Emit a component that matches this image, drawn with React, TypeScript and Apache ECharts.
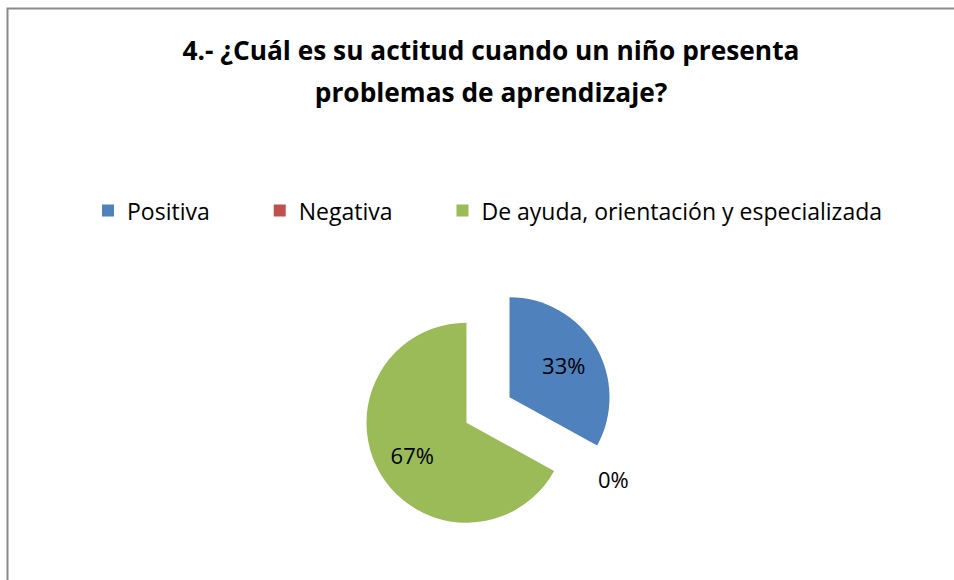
import React, { useEffect, useRef } from "react";
import * as echarts from "echarts";

const titleLines = ["4.- ¿Cuál es su actitud cuando un niño presenta", "problemas de aprendizaje?"];
const categories = ["Positiva", "Negativa", "De ayuda, orientación y especializada"];
const values = [33, 0, 67];
const colors = ["#4F81BD", "#C0504D", "#9BBB59"];

const FONT = "'Open Sans', 'Noto Sans', sans-serif";

export default function App() {
  const ref = useRef<HTMLDivElement>(null);
  useEffect(() => {
    if (!ref.current) return;
    const chart = echarts.init(ref.current, undefined, { renderer: "svg" });
    const center = [488, 410];
    const base = {
      type: "pie",
      center,
      startAngle: 90,
      clockwise: true,
      selectedMode: "multiple",
      selectedOffset: 25,
      avoidLabelOverlap: false,
      labelLine: { show: false },
      emphasis: { disabled: true },
      select: { disabled: false },
    };
    const labelStyle = { fontFamily: FONT, fontSize: 22, color: "#000" };
    chart.setOption({
      animation: false,
      color: colors,
      title: {
        text: titleLines.join("\n"),
        left: 486,
        top: 24,
        textAlign: "center",
        textStyle: { fontFamily: FONT, fontWeight: "bold", fontSize: 26.3, lineHeight: 42, color: "#000" },
      },
      legend: {
        left: 97,
        top: 194,
        icon: "rect",
        itemWidth: 12,
        itemHeight: 12,
        itemGap: 64,
        selectedMode: false,
        data: categories,
        textStyle: { fontFamily: FONT, fontSize: 23, color: "#000", padding: [0, 0, 0, 8] },
      },
      graphic: [
        {
          type: "rect",
          shape: { x: 7.5, y: 8.5, width: 1000, height: 700 },
          style: { fill: "none", stroke: "#8a8a8a", lineWidth: 2 },
          silent: true,
        },
      ],
      series: [
        {
          ...base,
          name: "main",
          radius: [0, 100],
          label: { show: false },
          data: categories.map((n, i) => ({ name: n, value: values[i], selected: true, itemStyle: { color: colors[i] } })),
        },
        {
          ...base,
          name: "labelsIn",
          radius: [0, 120],
          silent: true,
          itemStyle: { color: "rgba(0,0,0,0)" },
          data: categories.map((n, i) => ({
            name: n,
            value: values[i],
            selected: true,
            label: { show: values[i] > 0, position: "inside", formatter: "{c}%", ...labelStyle },
          })),
        },
        {
          ...base,
          name: "labelsOut",
          radius: [0, 230],
          silent: true,
          itemStyle: { color: "rgba(0,0,0,0)" },
          data: categories.map((n, i) => ({
            name: n,
            value: values[i],
            selected: true,
            label: { show: values[i] === 0, position: "inside", formatter: "{c}%", ...labelStyle },
          })),
        },
      ],
    });
    return () => chart.dispose();
  }, []);
  return (
    <div
      ref={ref}
      style={{ position: "fixed", left: 0, top: 0, width: 954, height: 580, background: "#fff" }}
    />
  );
}
